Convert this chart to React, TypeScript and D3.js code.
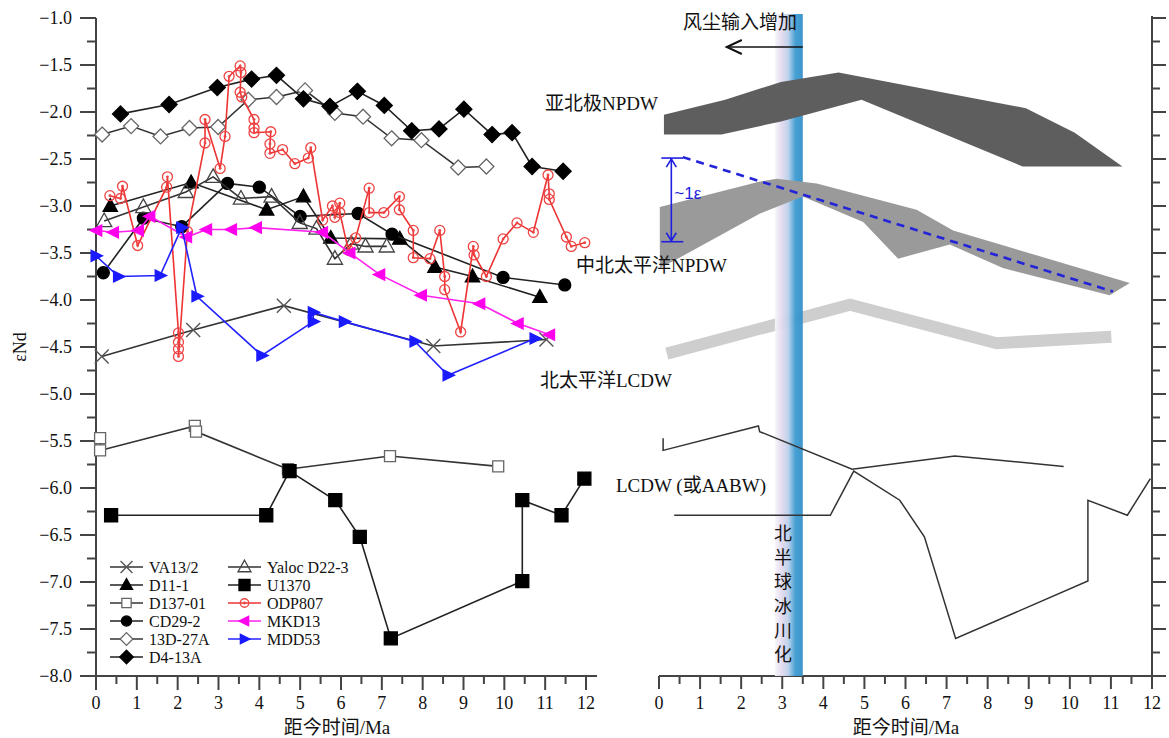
import React, { useEffect, useRef } from 'react';
import * as d3 from 'd3';

type Pt = [number, number];

// ---- left panel: εNd records (age Ma, εNd) ----
const VA13_2: Pt[] = [[0.14, -4.6], [2.38, -4.32], [4.6, -4.06], [8.26, -4.49], [11.03, -4.42]];
const D11_1: Pt[] = [[0.35, -3.0], [2.33, -2.75], [4.18, -3.04], [5.08, -2.9], [5.75, -3.34], [7.44, -3.35], [8.3, -3.65], [9.22, -3.75], [10.87, -3.97]];
const D137_01: Pt[] = [[0.1, -5.47], [0.1, -5.6], [2.42, -5.34], [2.45, -5.4], [4.7, -5.8], [7.2, -5.66], [9.85, -5.77]];
const CD29_2: Pt[] = [[0.18, -3.71], [1.16, -3.13], [2.1, -3.22], [3.22, -2.76], [4.0, -2.8], [5.0, -3.11], [6.42, -3.08], [7.25, -3.3], [9.97, -3.76], [11.48, -3.84]];
const D13_27A: Pt[] = [[0.15, -2.24], [0.86, -2.15], [1.58, -2.26], [2.29, -2.17], [2.99, -2.16], [3.73, -1.87], [4.42, -1.84], [5.12, -1.77], [5.85, -2.01], [6.54, -2.05], [7.24, -2.28], [7.97, -2.3], [8.87, -2.59], [9.56, -2.58]];
const D4_13A: Pt[] = [[0.6, -2.02], [1.79, -1.92], [2.97, -1.74], [3.81, -1.65], [4.42, -1.61], [5.08, -1.86], [5.73, -1.94], [6.4, -1.78], [7.06, -1.93], [7.73, -2.2], [8.4, -2.18], [9.01, -1.97], [9.7, -2.24], [10.19, -2.22], [10.68, -2.58], [11.44, -2.63]];
const YALOC_D22_3: Pt[] = [[0.2, -3.16], [1.16, -3.01], [2.2, -2.85], [2.87, -2.69], [3.55, -2.92], [4.3, -2.9], [4.99, -3.18], [5.4, -3.24], [5.85, -3.56], [6.25, -3.4], [6.6, -3.43], [7.12, -3.43]];
const U1370: Pt[] = [[0.37, -6.29], [4.17, -6.29], [4.74, -5.82], [5.86, -6.13], [6.46, -6.52], [7.22, -7.6], [10.44, -6.99], [10.44, -6.13], [11.4, -6.29], [11.96, -5.9]];
const ODP807: Pt[] = [[0.34, -2.89], [0.6, -2.92], [0.65, -2.79], [1.02, -3.42], [1.73, -2.8], [1.75, -2.69], [2.02, -4.35], [2.02, -4.45], [2.02, -4.52], [2.02, -4.6], [2.24, -3.27], [2.67, -2.33], [2.67, -2.08], [3.04, -2.6], [3.16, -2.26], [3.26, -1.62], [3.53, -1.51], [3.55, -1.58], [3.53, -1.79], [3.57, -1.84], [3.87, -2.08], [3.87, -2.17], [3.87, -2.22], [4.28, -2.21], [4.26, -2.34], [4.26, -2.44], [4.57, -2.4], [4.87, -2.55], [5.2, -2.49], [5.26, -2.38], [5.55, -3.15], [5.79, -3.0], [5.85, -3.12], [5.97, -2.97], [5.97, -3.07], [6.18, -3.47], [6.36, -3.34], [6.69, -2.81], [6.69, -3.07], [7.05, -3.07], [7.43, -2.9], [7.43, -3.04], [7.77, -3.26], [7.77, -3.55], [8.18, -3.56], [8.42, -3.26], [8.54, -3.75], [8.54, -3.89], [8.93, -4.34], [9.24, -3.43], [9.26, -3.52], [9.56, -3.75], [9.97, -3.35], [10.31, -3.18], [10.71, -3.28], [11.07, -2.67], [11.1, -2.87], [11.1, -2.93], [11.52, -3.33], [11.64, -3.43], [11.97, -3.39]];
const MKD13: Pt[] = [[0.02, -3.26], [0.43, -3.28], [1.04, -3.26], [1.32, -3.11], [2.22, -3.33], [2.71, -3.25], [3.32, -3.25], [3.93, -3.23], [5.55, -3.28], [6.22, -3.5], [6.95, -3.73], [7.97, -3.95], [9.4, -4.04], [10.34, -4.25], [11.11, -4.37]];
const MDD53: Pt[] = [[0.0, -3.53], [0.55, -3.75], [1.57, -3.74], [2.1, -3.23], [2.47, -3.96], [4.06, -4.59], [5.32, -4.23], [5.32, -4.13], [6.08, -4.23], [7.81, -4.44], [8.62, -4.8], [10.75, -4.41]];

// ---- right panel: schematic water-mass envelopes ----
const ARCTIC_UPPER: Pt[] = [[0.12, -2.03], [1.61, -1.87], [2.97, -1.68], [4.37, -1.58], [8.93, -1.96], [10.12, -2.22], [11.28, -2.58]];
const ARCTIC_LOWER: Pt[] = [[0.12, -2.24], [1.52, -2.24], [2.97, -2.1], [4.93, -1.87], [8.85, -2.58], [11.28, -2.58]];
const NPDW_UPPER: Pt[] = [[0.02, -3.01], [2.46, -2.74], [2.86, -2.71], [3.84, -2.76], [6.27, -3.04], [7.16, -3.26], [11.46, -3.82]];
const NPDW_LOWER: Pt[] = [[0.02, -3.66], [0.5, -3.55], [2.46, -3.08], [3.5, -2.9], [4.97, -3.17], [5.82, -3.56], [7.08, -3.41], [8.37, -3.66], [10.97, -3.95], [11.46, -3.82]];
const NPDW_TREND: Pt[] = [[0.58, -2.48], [11.05, -3.91]];
const LCDW_NP: Pt[] = [[0.19, -4.57], [4.65, -4.05], [8.22, -4.46], [11.01, -4.39]];
const NHG_BAND = [2.82, 3.5];
const OFFSET_BAR = { age: 0.3, top: -2.49, bottom: -3.38 };

const SERIES = [
  { name: 'VA13/2', data: VA13_2, line: '#333', mk: 'cross', stroke: '#555', fill: 'none', s: 7 },
  { name: 'D11-1', data: D11_1, line: '#222', mk: 'triUp', stroke: '#000', fill: '#000', s: 7.5 },
  { name: 'D137-01', data: D137_01, line: '#333', mk: 'square', stroke: '#666', fill: '#fff', s: 5.5 },
  { name: 'CD29-2', data: CD29_2, line: '#222', mk: 'circle', stroke: '#000', fill: '#000', s: 6 },
  { name: '13D-27A', data: D13_27A, line: '#333', mk: 'diamond', stroke: '#666', fill: '#fff', s: 7.5 },
  { name: 'D4-13A', data: D4_13A, line: '#222', mk: 'diamond', stroke: '#000', fill: '#000', s: 8 },
  { name: 'Yaloc D22-3', data: YALOC_D22_3, line: '#333', mk: 'triUp', stroke: '#444', fill: 'none', s: 8 },
  { name: 'U1370', data: U1370, line: '#222', mk: 'square', stroke: '#000', fill: '#000', s: 6.5 },
  { name: 'ODP807', data: ODP807, line: '#ee3333', mk: 'dotCircle', stroke: '#ee4444', fill: 'none', s: 5 },
  { name: 'MKD13', data: MKD13, line: '#ff22ee', mk: 'triLeft', stroke: '#ff00ee', fill: '#ff00ee', s: 6.5 },
  { name: 'MDD53', data: MDD53, line: '#2222ff', mk: 'triRight', stroke: '#1a1aff', fill: '#1a1aff', s: 6.5 },
];

const FONT = "'Liberation Serif','Times New Roman','Noto Sans CJK SC',serif";

function markerPath(t: string, x: number, y: number, s: number): string {
  switch (t) {
    case 'diamond':
      return `M${x},${y - s}L${x + s},${y}L${x},${y + s}L${x - s},${y}Z`;
    case 'triUp':
      return `M${x},${y - s}L${x + s * 0.95},${y + s * 0.7}L${x - s * 0.95},${y + s * 0.7}Z`;
    case 'triLeft':
      return `M${x - s},${y}L${x + s * 0.75},${y - s * 0.85}L${x + s * 0.75},${y + s * 0.85}Z`;
    case 'triRight':
      return `M${x + s},${y}L${x - s * 0.75},${y - s * 0.85}L${x - s * 0.75},${y + s * 0.85}Z`;
    case 'square':
      return `M${x - s},${y - s}h${2 * s}v${2 * s}h${-2 * s}Z`;
    case 'cross':
      return `M${x - s},${y - s}L${x + s},${y + s}M${x + s},${y - s}L${x - s},${y + s}`;
    default:
      // circle
      return `M${x - s},${y}a${s},${s} 0 1,0 ${2 * s},0a${s},${s} 0 1,0 ${-2 * s},0Z`;
  }
}

const App = () => {
  const svgRef = useRef<SVGSVGElement>(null);

  useEffect(() => {
    const svg = d3.select(svgRef.current);
    const W = 1169;
    const H = 738;

    const xL = d3.scaleLinear().domain([0, 12]).range([96, 586]);
    const xR = d3.scaleLinear().domain([0, 12]).range([659, 1152]);
    const y = d3.scaleLinear().domain([-1, -8]).range([18, 676]);
    const axisY = 676;

    svg.attr('width', W).attr('height', H);

    const defs = svg.append('defs');
    const grad = defs.append('linearGradient').attr('id', 'nhg').attr('x1', '0').attr('x2', '1').attr('y1', '0').attr('y2', '0');
    [
      ['0%', '#f8f5fb'],
      ['25%', '#e2daee'],
      ['48%', '#bcd0ea'],
      ['62%', '#72b3dd'],
      ['74%', '#3d9bd2'],
      ['100%', '#3490c7'],
    ].forEach(([o, c]) => grad.append('stop').attr('offset', o).attr('stop-color', c));

    // ---------- axes ----------
    const majorY = d3.range(-1, -8.01, -0.5);
    const minorY = d3.range(-1.25, -8, -0.5);
    const majorX = d3.range(0, 12.01, 1);
    const minorX = d3.range(0.5, 12, 1);
    const axisColor = '#444';

    const axes = svg.append('g').attr('stroke', axisColor).attr('stroke-width', 2).attr('fill', 'none');
    // left panel
    axes.append('line').attr('x1', xL(0)).attr('x2', xL(0)).attr('y1', y(-1)).attr('y2', axisY);
    axes.append('line').attr('x1', xL(0) - 1).attr('x2', 597).attr('y1', axisY).attr('y2', axisY);
    majorY.forEach((v) => axes.append('line').attr('x1', xL(0) - 16).attr('x2', xL(0)).attr('y1', y(v)).attr('y2', y(v)));
    minorY.forEach((v) => axes.append('line').attr('x1', xL(0) - 9).attr('x2', xL(0)).attr('y1', y(v)).attr('y2', y(v)));
    majorX.forEach((v) => axes.append('line').attr('x1', xL(v)).attr('x2', xL(v)).attr('y1', axisY).attr('y2', axisY + 14));
    minorX.forEach((v) => axes.append('line').attr('x1', xL(v)).attr('x2', xL(v)).attr('y1', axisY).attr('y2', axisY + 8));
    // right panel
    axes.append('line').attr('x1', xR(0)).attr('x2', xR(12) + 1).attr('y1', axisY).attr('y2', axisY);
    axes.append('line').attr('x1', xR(12)).attr('x2', xR(12)).attr('y1', y(-1) - 2).attr('y2', axisY);
    majorY.forEach((v) => axes.append('line').attr('x1', xR(12)).attr('x2', xR(12) + 14).attr('y1', y(v)).attr('y2', y(v)));
    minorY.forEach((v) => axes.append('line').attr('x1', xR(12)).attr('x2', xR(12) + 8).attr('y1', y(v)).attr('y2', y(v)));
    majorX.forEach((v) => axes.append('line').attr('x1', xR(v)).attr('x2', xR(v)).attr('y1', axisY).attr('y2', axisY + 13));
    minorX.forEach((v) => axes.append('line').attr('x1', xR(v)).attr('x2', xR(v)).attr('y1', axisY).attr('y2', axisY + 8));

    const txt = svg.append('g').attr('font-family', FONT).attr('fill', '#111');
    const fmt = d3.format('.1f');
    majorY.forEach((v) =>
      txt.append('text').attr('x', 72).attr('y', y(v) + 6).attr('text-anchor', 'end').attr('font-size', 18).text(fmt(v))
    );
    [xL, xR].forEach((sc) =>
      majorX.forEach((v) =>
        txt.append('text').attr('x', sc(v)).attr('y', 709).attr('text-anchor', 'middle').attr('font-size', 18).text(String(v))
      )
    );
    txt.append('text').attr('x', 337).attr('y', 734).attr('text-anchor', 'middle').attr('font-size', 19).text('距今时间/Ma');
    txt.append('text').attr('x', 906).attr('y', 734).attr('text-anchor', 'middle').attr('font-size', 19).text('距今时间/Ma');
    txt.append('text').attr('transform', 'translate(26,347) rotate(-90)').attr('text-anchor', 'middle').attr('font-size', 18).text('εNd');

    // ---------- right panel schematic ----------
    const R = svg.append('g');
    const band = (upper: Pt[], lower: Pt[]) =>
      [...upper, ...lower.slice().reverse()].map(([a, e]) => `${xR(a)},${y(e)}`).join(' ');
    const lineR = d3.line<Pt>().x((d) => xR(d[0])).y((d) => y(d[1]));
    R.append('path').attr('d', lineR(LCDW_NP)).attr('fill', 'none').attr('stroke', '#cecece').attr('stroke-width', 12).attr('stroke-linejoin', 'miter');

    R.append('rect')
      .attr('x', xR(NHG_BAND[0]))
      .attr('y', 14)
      .attr('width', xR(NHG_BAND[1]) - xR(NHG_BAND[0]))
      .attr('height', axisY - 14)
      .attr('fill', 'url(#nhg)')
      .attr('opacity', 0.95);

    R.append('polygon').attr('points', band(ARCTIC_UPPER, ARCTIC_LOWER)).attr('fill', '#5e5e5e');
    R.append('polygon').attr('points', band(NPDW_UPPER, NPDW_LOWER)).attr('fill', '#9a9a9a');

    R.append('path').attr('d', lineR(NPDW_TREND)).attr('fill', 'none').attr('stroke', '#2323d8').attr('stroke-width', 2.6).attr('stroke-dasharray', '8,6');

    // ~1ε bracket
    const bx = xR(OFFSET_BAR.age);
    const bt = y(OFFSET_BAR.top);
    const bb = y(OFFSET_BAR.bottom);
    const bg = R.append('g').attr('stroke', '#1f1fe0').attr('stroke-width', 1.6).attr('fill', 'none');
    bg.append('line').attr('x1', bx).attr('x2', bx).attr('y1', bt).attr('y2', bb);
    bg.append('line').attr('x1', bx - 10).attr('x2', bx + 12).attr('y1', bt).attr('y2', bt);
    bg.append('line').attr('x1', bx - 10).attr('x2', bx + 12).attr('y1', bb).attr('y2', bb);
    bg.append('path').attr('d', `M${bx - 5},${bt + 9}L${bx},${bt + 1}L${bx + 5},${bt + 9}`);
    bg.append('path').attr('d', `M${bx - 5},${bb - 9}L${bx},${bb - 1}L${bx + 5},${bb - 9}`);
    R.append('text')
      .attr('x', bx + 3)
      .attr('y', (bt + bb) / 2 - 1)
      .attr('font-family', "'Liberation Sans',Arial,sans-serif")
      .attr('font-size', 17)
      .attr('fill', '#1f1fe0')
      .text('~1ε');

    // thin LCDW (or AABW) traces = same records without markers
    [D137_01, U1370].forEach((d) =>
      R.append('path').attr('d', lineR(d)).attr('fill', 'none').attr('stroke', '#333').attr('stroke-width', 1.5)
    );

    // dust arrow
    const ay = 47;
    R.append('line').attr('x1', xR(3.5)).attr('x2', xR(1.65)).attr('y1', ay).attr('y2', ay).attr('stroke', '#111').attr('stroke-width', 1.6);
    R.append('path')
      .attr('d', `M${xR(1.65) + 15},${ay - 7}L${xR(1.65)},${ay}L${xR(1.65) + 15},${ay + 7}`)
      .attr('fill', 'none')
      .attr('stroke', '#111')
      .attr('stroke-width', 2);

    const lab = svg.append('g').attr('font-family', FONT).attr('font-size', 19).attr('fill', '#111');
    lab.append('text').attr('x', 683).attr('y', 29).text('风尘输入增加');
    lab.append('text').attr('x', 545).attr('y', 110).text('亚北极NPDW');
    lab.append('text').attr('x', 576).attr('y', 272).text('中北太平洋NPDW');
    lab.append('text').attr('x', 540).attr('y', 387).text('北太平洋LCDW');
    lab.append('text').attr('x', 616).attr('y', 492).text('LCDW (或AABW)');
    '北半球冰川化'.split('').forEach((c, i) =>
      lab.append('text').attr('x', 783).attr('y', 540 + i * 24.2).attr('text-anchor', 'middle').attr('font-size', 18).text(c)
    );

    // ---------- left panel records ----------
    const L = svg.append('g');
    const lineL = d3.line<Pt>().x((d) => xL(d[0])).y((d) => y(d[1]));
    const drawMarker = (g: any, s: any, cx: number, cy: number) => {
      g.append('path')
        .attr('d', markerPath(s.mk, cx, cy, s.s))
        .attr('fill', s.fill)
        .attr('stroke', s.stroke)
        .attr('stroke-width', s.mk === 'cross' ? 1.4 : 1.3);
      if (s.mk === 'dotCircle') {
        g.append('circle').attr('cx', cx).attr('cy', cy).attr('r', 1.4).attr('fill', s.stroke);
      }
    };
    SERIES.forEach((s) => {
      const g = L.append('g');
      g.append('path').attr('d', lineL(s.data)).attr('fill', 'none').attr('stroke', s.line).attr('stroke-width', 1.6);
      s.data.forEach((d) => drawMarker(g, s, xL(d[0]), y(d[1])));
    });

    // legend
    const leg = svg.append('g');
    SERIES.forEach((s, i) => {
      const col = i < 6 ? 0 : 1;
      const row = col === 0 ? i : i - 6;
      const x0 = col === 0 ? 110 : 228;
      const cy = 567 + row * 18;
      const g = leg.append('g');
      g.append('line').attr('x1', x0).attr('x2', x0 + 33).attr('y1', cy).attr('y2', cy).attr('stroke', s.line).attr('stroke-width', 1.6);
      drawMarker(g, { ...s, s: s.s * 0.85 }, x0 + 16.5, cy);
      g.append('text')
        .attr('x', x0 + 39)
        .attr('y', cy + 5.5)
        .attr('font-family', FONT)
        .attr('font-size', 16)
        .attr('fill', '#111')
        .text(s.name);
    });

    return () => {
      svg.selectAll('*').remove();
    };
  }, []);

  return <svg ref={svgRef} style={{ position: 'absolute', left: 0, top: 0, background: '#fff' }}></svg>;
};

export default App;
